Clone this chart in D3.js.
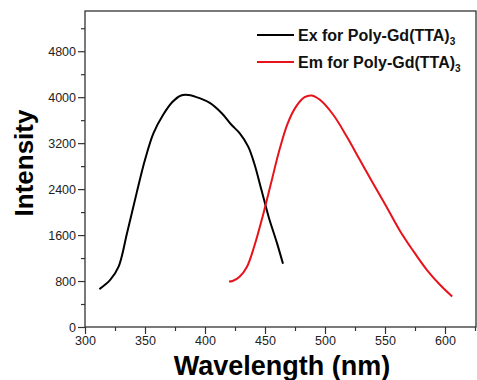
<!DOCTYPE html>
<html>
<head>
<meta charset="utf-8">
<script src="https://cdn.jsdelivr.net/npm/d3@7"></script>
<style>
  body { margin: 0; background: #fff; }
  svg { font-family: "Liberation Sans", Arial, sans-serif; }
</style>
</head>
<body>
<div class="chart"></div>
<script>
// excitation spectrum (black)
let exWavelength = [312, 321, 328, 335, 343, 350, 357, 365, 373, 380, 386, 396, 404, 414, 422, 429, 436, 441, 447, 453, 460, 465]
let exIntensity = [660, 820, 1050, 1630, 2330, 2910, 3370, 3690, 3920, 4030, 4040, 3980, 3900, 3720, 3520, 3370, 3140, 2850, 2390, 1920, 1460, 1100]

// emission spectrum (red)
let emWavelength = [420, 423, 429, 435, 441, 448, 455, 462, 469, 476, 483, 489, 496, 507, 518, 529, 540, 551, 562, 573, 585, 596, 606]
let emIntensity = [790, 800, 880, 1050, 1400, 1920, 2500, 3080, 3550, 3840, 4000, 4030, 3950, 3690, 3320, 2910, 2500, 2100, 1690, 1340, 990, 730, 530]

let xTicks = [300, 350, 400, 450, 500, 550, 600]
let yTicks = [0, 800, 1600, 2400, 3200, 4000, 4800]
let legendLabels = ["Ex for Poly-Gd(TTA)", "Em for Poly-Gd(TTA)"]

let dims = {
    width: 477,
    height: 380,
    margin: { top: 11, bottom: 53, left: 85, right: 1 }
}

var svg = d3.select(".chart")
    .append("svg")
    .attr("width", dims.width)
    .attr("height", dims.height)

var plotW = dims.width - dims.margin.left - dims.margin.right
var plotH = dims.height - dims.margin.top - dims.margin.bottom

var xScale = d3.scaleLinear()
    .domain([300, 300 + plotW / 1.2])
    .range([0, plotW])

var yScale = d3.scaleLinear()
    .domain([0, 5500])
    .range([plotH, 0])

const container = svg.append("g")
    .attr("transform", `translate(${dims.margin.left},${dims.margin.top})`)

// frame
container.append("rect")
    .attr("width", plotW)
    .attr("height", plotH)
    .attr("fill", "none")
    .attr("stroke", "#333")
    .attr("stroke-width", 1.3)

// minor ticks
container.append("g")
    .attr("transform", `translate(0, ${plotH})`)
    .call(d3.axisBottom(xScale).tickValues(d3.range(325, 626, 50)).tickSize(4).tickFormat(""))
    .call(g => g.select(".domain").remove())

container.append("g")
    .call(d3.axisLeft(yScale).tickValues(d3.range(400, 5401, 800)).tickSize(4).tickFormat(""))
    .call(g => g.select(".domain").remove())

// major axes
const xAxisGroup = container.append("g")
    .attr("transform", `translate(0, ${plotH})`)
    .call(d3.axisBottom(xScale).tickValues(xTicks).tickSize(7).tickPadding(2).tickFormat(d3.format("d")))
xAxisGroup.select(".domain").remove()
xAxisGroup.selectAll("text").attr("font-size", "12.5px").attr("fill", "#222")

const yAxisGroup = container.append("g")
    .call(d3.axisLeft(yScale).tickValues(yTicks).tickSize(7).tickPadding(2).tickFormat(d3.format("d")))
yAxisGroup.select(".domain").remove()
yAxisGroup.selectAll("text").attr("font-size", "12.5px").attr("fill", "#222")

svg.selectAll(".tick line").attr("stroke", "#333").attr("stroke-width", 1.2)

// curves
var line = d3.line()
    .x(d => xScale(d[0]))
    .y(d => yScale(d[1]))
    .curve(d3.curveCatmullRom)

container.append("path")
    .datum(d3.zip(exWavelength, exIntensity))
    .attr("d", line)
    .attr("fill", "none")
    .attr("stroke", "#000")
    .attr("stroke-width", 2)

container.append("path")
    .datum(d3.zip(emWavelength, emIntensity))
    .attr("d", line)
    .attr("fill", "none")
    .attr("stroke", "#e8121a")
    .attr("stroke-width", 2)

// legend
var legendColors = ["#000", "#e8121a"]
legendLabels.forEach((label, i) => {
    let ly = 35 + i * 27
    svg.append("line")
        .attr("x1", 257).attr("x2", 294)
        .attr("y1", ly).attr("y2", ly)
        .attr("stroke", legendColors[i])
        .attr("stroke-width", 2)
    let t = svg.append("text")
        .attr("x", 298)
        .attr("y", ly + 6)
        .attr("font-size", "16px")
        .attr("font-weight", "bold")
        .attr("fill", "#111")
    t.append("tspan").text(label)
    t.append("tspan").attr("dy", 4).attr("font-size", "10px").text("3")
})

// axis titles
svg.append("text")
    .attr("x", 282)
    .attr("y", 375)
    .attr("text-anchor", "middle")
    .attr("font-size", "27px")
    .attr("font-weight", "bold")
    .attr("fill", "#000")
    .text("Wavelength (nm)")

svg.append("text")
    .attr("transform", "rotate(-90)")
    .attr("x", -163)
    .attr("y", 33)
    .attr("text-anchor", "middle")
    .attr("font-size", "26px")
    .attr("font-weight", "bold")
    .attr("fill", "#000")
    .text("Intensity")
</script>
</body>
</html>
